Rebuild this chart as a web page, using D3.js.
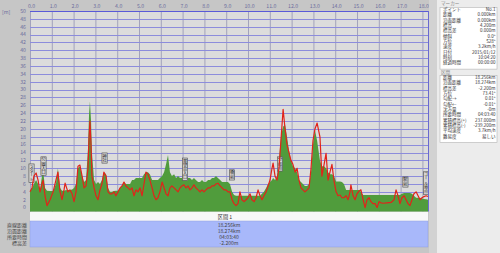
<!DOCTYPE html>
<html><head><meta charset="utf-8">
<script src="https://cdn.jsdelivr.net/npm/d3@7"></script>
<style>
html,body{margin:0;padding:0;background:#c6c6c6;}
svg{display:block;font-family:"Noto Sans CJK JP","Noto Sans",sans-serif;}
text.vt{writing-mode:vertical-rl;text-orientation:upright;}
</style></head>
<body>
<svg id="c" width="500" height="253"></svg>
<script>
// ---- data ----
const distKm = [0.00,0.09,0.18,0.28,0.37,0.46,0.55,0.60,0.69,0.78,0.92,1.06,1.19,1.28,1.38,1.47,1.56,1.61,1.74,1.83,1.93,2.02,2.11,2.20,2.29,2.39,2.48,2.57,2.66,2.71,2.75,2.80,2.84,2.94,3.03,3.12,3.21,3.30,3.39,3.49,3.58,3.67,3.76,3.85,3.94,4.04,4.13,4.22,4.31,4.40,4.50,4.59,4.68,4.77,4.86,4.95,5.05,5.14,5.23,5.32,5.41,5.50,5.60,5.69,5.78,5.87,5.96,6.06,6.15,6.24,6.33,6.42,6.51,6.61,6.70,6.79,6.88,6.97,7.06,7.16,7.25,7.34,7.43,7.52,7.61,7.71,7.80,7.89,7.98,8.07,8.17,8.26,8.35,8.44,8.53,8.62,8.72,8.81,8.90,8.99,9.08,9.17,9.27,9.36,9.45,9.54,9.63,9.72,9.82,9.91,10.00,10.09,10.18,10.28,10.37,10.46,10.55,10.64,10.73,10.83,10.92,11.01,11.10,11.15,11.24,11.33,11.42,11.51,11.61,11.70,11.79,11.88,11.97,12.06,12.16,12.25,12.34,12.43,12.52,12.61,12.71,12.80,12.89,12.98,13.07,13.17,13.30,13.39,13.49,13.58,13.67,13.76,13.85,13.94,14.04,14.13,14.22,14.31,14.40,14.50,14.59,14.68,14.72,14.82,14.91,15.00,15.09,15.18,15.28,15.37,15.46,15.55,15.64,15.73,15.83,15.92,16.01,16.10,16.19,16.38,16.56,16.70,16.79,16.88,16.97,17.06,17.16,17.25,17.34,17.43,17.52,17.61,17.71,17.80,17.89,17.98,18.07,18.17,18.256];
const elevation = [4.2,5,6,7,6,4.5,8,9.5,5,4.3,4.2,4.2,6,10,5,4.3,4.3,4.4,4.5,4.5,4.6,5,6,10,10.5,8,6.5,7,15,24,27,22,14,7,6,6.5,6,7,9,8.5,5,4,4,4.2,4.3,4.3,5,5.5,6.5,6,6,6,7,7,7.5,7.5,7.5,7.5,8.5,9,9,8.5,7,7,7,7,7.5,8,9,11,13.4,9,8,8.5,7.5,8,7.5,7.5,9.5,8,7.5,7.5,7,7.5,7,6.5,6.5,7,6.5,6.5,7,7,7.5,7.5,8,7.5,7,6.5,6.5,6.5,6.5,6,4,3.2,3,3,3,3,3,3,3,3,3,3,3,3,3,3.5,4,5,6,6.5,7,7.5,7,8,12,18,20.6,21,18,14.5,12,10.5,10,9,7,6.5,6,5.5,5.5,6,9,16,19.7,17,12,10.5,10.5,10,9,8.5,8.5,8,6.6,6.6,6.6,6.5,6,4.5,4.5,4.5,4.5,4.5,4.5,4.5,4.5,4,3.2,3.2,3.2,3.2,3.2,3.2,3.2,3.2,3.2,3.2,3.2,3.2,3.2,3.2,3.2,3.2,3.2,3.5,3.7,3.7,3.7,3.7,3.5,3,2.5,2.5,2.5,2.3,2.2,2.1,2.0];
const speed = [4,5,8,8.8,7,4,6,7,3,0.5,2,4,7,9,4,2,4.5,6.2,4,4.5,3.5,1.5,4,10.5,10.8,8,5,5.5,10,18,22,16,8,5,3,2,4.5,6,9,8,4,3.5,3.5,4,3,4,5,5.5,6.5,5.5,5,4.5,5,3,4.5,4,5,3,6,9,8.5,7,5,3,2,2.5,4,6.5,5,3.5,3,5,5.5,5,4.5,4,5,5.5,5.8,5,5.5,4.5,5,5.8,5,4.5,4,4.5,4,4.5,5,5,5.5,5.5,6,6.2,5.5,5,4.5,4.5,4,4,2,1,0.5,1,4,2,1.5,2,2.5,3.5,2,1.5,2.5,4.5,3,2,3,4,5.5,7,10,11.3,8,7,10,17,25,20,16,14,12,11,9,10,7,5,4.5,4,4.5,5,10,17,20,21.5,18,8,11,13.8,7,9,11,7,4,3,3.2,2.5,2.5,3,2,4,5.8,3,2,3.5,4.2,4.5,2,0,2,2.5,1.5,1,1,0,1.5,1.2,1.1,1.2,1.3,2,4.5,3,1,2.5,3,2,1,0.5,2,3.5,4,3,2,2.5,2.8,3,2.8];
const xTicks = d3.range(0, 19, 1);
const yTicks = d3.range(0, 51, 2);
const wpKm = [0.07, 0.62, 3.42, 7.11, 9.27, 11.47, 17.22, 18.17];
const wpTop = [11.1, 12.9, 13.9, 12.6, 9.6, 12.9, 7.8, 9.1];
const wpNames = ["スタート", "公園入口", "神社", "展望台入口", "橋前", "分岐点", "駅前", "ゴール地点"];
const markerRows = [["ポイント","No.1"],["距離","0.000km"],["沿面距離","0.000km"],["標高","4.200m"],["標高差","0.000m"],["傾斜","0.0°"],["方位","S28°"],["速度","3.2km/h"],["日付","2015/01/12"],["時刻","10:04:20"],["経過時間","00:00:00"]];
const sectionRows = [["距離","18.256km"],["沿面距離","18.274km"],["標高差","-2.200m"],["方位","73.41°"],["勾配→","0.01°"],["勾配←","-0.01°"],["沈み量","-0m"],["所要時間","04:03:40"],["累積標高(+)","237.000m"],["累積標高(-)","-239.200m"],["平均速度","3.7km/h"],["難易度","易しい"]];
const bottomLabels = ["直線距離","沿面距離","所要時間","標高差"];
const bottomValues = ["18.256km","18.274km","04:03:40","-2.200m"];
const sectionTitle = "区間 1";

// ---- drawing ----
const svg = d3.select("#c");
const L = 30, R = 428, T = 11, B = 211.5;
const x = d3.scaleLinear().domain([0, 18.256]).range([L, R]);
const y = d3.scaleLinear().domain([-1, 50]).range([B, T]);

svg.append("rect").attr("width",500).attr("height",253).attr("fill","#c6c6c6");
svg.append("rect").attr("x",L).attr("y",T).attr("width",R-L).attr("height",B-T).attr("fill","#dcdcdc");

// grid
svg.append("g").selectAll("line").data(xTicks).join("line")
  .attr("x1",d=>x(d)+0.5).attr("x2",d=>x(d)+0.5).attr("y1",T).attr("y2",B)
  .attr("stroke","#a2a2bc").attr("stroke-width",1);
svg.append("g").selectAll("line").data(yTicks).join("line")
  .attr("x1",L).attr("x2",R).attr("y1",d=>Math.round(y(d))+0.5).attr("y2",d=>Math.round(y(d))+0.5)
  .attr("stroke","#8c8cdc").attr("stroke-width",1);

const pts = distKm.map((d,i)=>({d, e:elevation[i], s:speed[i]}));
svg.append("path").datum(pts)
  .attr("d", d3.area().x(p=>x(p.d)).y0(B).y1(p=>y(p.e)))
  .attr("fill","#509c3c");

// waypoint labels (vertical text)
const wp = svg.append("g");
const fs = 4.1;
wpKm.forEach((k,i)=>{
  const n = Array.from(wpNames[i]).length;
  const h = n*fs + 2;
  const cx = x(k), ty = y(wpTop[i]);
  wp.append("rect").attr("x",cx-2.6).attr("y",ty).attr("width",5.2).attr("height",h)
    .attr("fill","#d4d4d4").attr("stroke","#4a4a4a").attr("stroke-width",0.6);
  wp.append("text").attr("class","vt").attr("writing-mode","tb")
    .attr("x",cx).attr("y",ty+1)
    .attr("font-size",fs).attr("fill","#1a1a1a").text(wpNames[i]);
});

svg.append("path").datum(pts)
  .attr("d", d3.line().x(p=>x(p.d)).y(p=>y(p.s)))
  .attr("fill","none").attr("stroke","#e2231a").attr("stroke-width",1.2).attr("stroke-linejoin","round");

// borders
svg.append("line").attr("x1",L).attr("x2",R).attr("y1",T+0.5).attr("y2",T+0.5).attr("stroke","#5a5ad8").attr("stroke-width",1.2);
svg.append("line").attr("x1",R+0.5).attr("x2",R+0.5).attr("y1",T).attr("y2",B).attr("stroke","#6a6ad0").attr("stroke-width",1);

// axis labels
const axCol = "#6e6e9e";
svg.append("g").selectAll("text").data(xTicks).join("text")
  .attr("x",d=>x(d)+1.5).attr("y",7.5).attr("text-anchor","middle")
  .attr("font-size",5.2).attr("fill",axCol).text(d=>d.toFixed(1));
svg.append("text").attr("x",429.5).attr("y",7.5).attr("font-size",4.8).attr("fill",axCol).text("(km)");
svg.append("g").selectAll("text").data(yTicks).join("text")
  .attr("x",26).attr("y",d=>y(d)+1.8).attr("text-anchor","end")
  .attr("font-size",5.2).attr("fill",axCol).text(d=>d);
svg.append("text").attr("x",2).attr("y",13.5).attr("font-size",5.2).attr("fill",axCol).text("[m]");

// bottom section panel
svg.append("rect").attr("x",L).attr("y",212).attr("width",R-L).attr("height",9).attr("fill","#f8f8f8");
svg.append("text").attr("x",(L+R)/2-4).attr("y",218.6).attr("text-anchor","middle").attr("font-size",5.2).attr("fill","#333").text(sectionTitle);
svg.append("rect").attr("x",L).attr("y",221).attr("width",R-L).attr("height",26).attr("fill","#a8b8fa").attr("stroke","#8e9ee0").attr("stroke-width",0.5);
bottomLabels.forEach((t,i)=>{
  svg.append("text").attr("x",27).attr("y",226.5+i*6).attr("text-anchor","end").attr("font-size",5).attr("fill","#444").text(t);
  svg.append("text").attr("x",(L+R)/2).attr("y",226.5+i*6).attr("text-anchor","middle").attr("font-size",5).attr("fill","#444").text(bottomValues[i]);
});

// right panel
svg.append("rect").attr("x",429).attr("y",0).attr("width",8).attr("height",253).attr("fill","#d2d2d2");
svg.append("rect").attr("x",437).attr("y",0).attr("width",63).attr("height",253).attr("fill","#ececec");
svg.append("text").attr("x",441).attr("y",5.2).attr("font-size",4.6).attr("fill","#8a8a8a").text("マーカー");
svg.append("text").attr("x",441).attr("y",73.5).attr("font-size",4.6).attr("fill","#8a8a8a").text("区間");
function box(y0, rows){
  const h = rows.length*5.33 + 3;
  svg.append("rect").attr("x",440).attr("y",y0).attr("width",57).attr("height",h).attr("fill","#fff").attr("stroke","#b4b4b4").attr("stroke-width",0.6);
  rows.forEach((r,i)=>{
    const yy = y0 + 3.5 + i*5.33;
    svg.append("text").attr("x",443).attr("y",yy).attr("font-size",4.5).attr("fill","#333").text(r[0]);
    svg.append("text").attr("x",495.5).attr("y",yy).attr("text-anchor","end").attr("font-size",4.5).attr("fill","#333").text(r[1]);
  });
}
box(7.5, markerRows);
box(75.5, sectionRows);
</script>
</body></html>
